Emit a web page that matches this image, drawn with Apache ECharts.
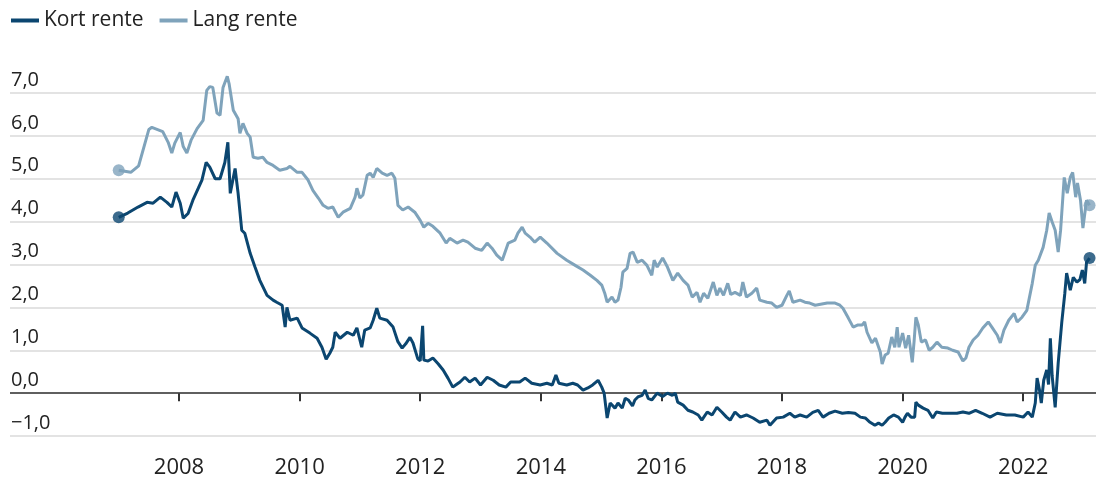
<!DOCTYPE html>
<html>
<head>
<meta charset="utf-8">
<script src="https://cdn.jsdelivr.net/npm/echarts@6/dist/echarts.min.js"></script>
<style>
html,body{margin:0;padding:0;background:#fff;}
#chart{width:1099px;height:484px;}
</style>
</head>
<body>
<div id="chart"></div>
<script>
const seriesNames = ["Kort rente", "Lang rente"];
const xTickYears = [2008, 2010, 2012, 2014, 2016, 2018, 2020, 2022];
const yTicks = [-1, 0, 1, 2, 3, 4, 5, 6, 7];

const kortX = [2007.00,2007.15,2007.32,2007.47,2007.57,2007.69,2007.80,2007.88,2007.95,2008.02,2008.07,2008.15,2008.23,2008.32,2008.38,2008.45,2008.51,2008.60,2008.68,2008.76,2008.81,2008.85,2008.93,2008.98,2009.04,2009.09,2009.18,2009.26,2009.34,2009.46,2009.56,2009.62,2009.71,2009.76,2009.79,2009.84,2009.96,2010.04,2010.17,2010.29,2010.37,2010.44,2010.50,2010.55,2010.59,2010.67,2010.79,2010.89,2010.95,2011.03,2011.08,2011.17,2011.22,2011.28,2011.33,2011.45,2011.55,2011.63,2011.70,2011.76,2011.83,2011.88,2011.96,2012.00,2012.04,2012.06,2012.13,2012.21,2012.30,2012.38,2012.46,2012.54,2012.60,2012.66,2012.74,2012.82,2012.91,2013.00,2013.11,2013.21,2013.31,2013.42,2013.50,2013.65,2013.74,2013.85,2013.99,2014.10,2014.19,2014.25,2014.30,2014.43,2014.53,2014.61,2014.70,2014.78,2014.86,2014.95,2015.01,2015.05,2015.10,2015.15,2015.23,2015.28,2015.35,2015.40,2015.45,2015.52,2015.56,2015.61,2015.68,2015.73,2015.78,2015.84,2015.93,2016.02,2016.10,2016.18,2016.23,2016.27,2016.36,2016.44,2016.52,2016.61,2016.67,2016.76,2016.84,2016.92,2017.00,2017.08,2017.14,2017.22,2017.31,2017.41,2017.52,2017.63,2017.75,2017.80,2017.91,2018.02,2018.13,2018.21,2018.30,2018.41,2018.51,2018.60,2018.68,2018.78,2018.88,2019.00,2019.10,2019.21,2019.30,2019.38,2019.46,2019.54,2019.60,2019.66,2019.71,2019.77,2019.85,2019.93,2020.00,2020.04,2020.08,2020.14,2020.20,2020.22,2020.26,2020.34,2020.42,2020.50,2020.56,2020.66,2020.78,2020.90,2021.00,2021.10,2021.21,2021.32,2021.45,2021.57,2021.72,2021.86,2022.00,2022.08,2022.15,2022.20,2022.23,2022.27,2022.30,2022.34,2022.39,2022.42,2022.45,2022.48,2022.53,2022.58,2022.64,2022.69,2022.72,2022.78,2022.83,2022.89,2022.94,2022.98,2023.02,2023.05,2023.10];
const kortY = [4.10,4.20,4.34,4.45,4.43,4.57,4.45,4.34,4.69,4.43,4.08,4.19,4.50,4.78,4.97,5.38,5.27,5.00,5.00,5.38,5.85,4.66,5.24,4.66,3.80,3.73,3.26,2.94,2.63,2.28,2.17,2.12,2.05,1.54,2.00,1.70,1.75,1.52,1.40,1.28,1.07,0.79,0.93,1.07,1.42,1.28,1.42,1.35,1.52,1.07,1.47,1.52,1.70,1.98,1.75,1.70,1.54,1.20,1.05,1.15,1.30,1.17,0.80,0.75,1.57,0.77,0.75,0.82,0.68,0.54,0.35,0.14,0.20,0.26,0.37,0.26,0.35,0.19,0.37,0.30,0.19,0.14,0.26,0.26,0.35,0.23,0.19,0.23,0.19,0.42,0.23,0.19,0.23,0.19,0.07,0.12,0.19,0.30,0.14,0.00,-0.58,-0.23,-0.35,-0.23,-0.35,-0.12,-0.16,-0.30,-0.16,-0.09,-0.05,0.07,-0.12,-0.16,0.00,-0.08,0.00,-0.05,0.00,-0.21,-0.28,-0.40,-0.44,-0.51,-0.63,-0.44,-0.51,-0.33,-0.44,-0.56,-0.63,-0.44,-0.56,-0.51,-0.58,-0.68,-0.63,-0.75,-0.58,-0.56,-0.47,-0.56,-0.51,-0.56,-0.45,-0.40,-0.56,-0.47,-0.42,-0.47,-0.45,-0.47,-0.56,-0.58,-0.68,-0.75,-0.70,-0.75,-0.68,-0.58,-0.51,-0.56,-0.68,-0.56,-0.47,-0.56,-0.56,-0.21,-0.28,-0.35,-0.40,-0.58,-0.44,-0.47,-0.47,-0.47,-0.44,-0.47,-0.40,-0.47,-0.56,-0.47,-0.51,-0.51,-0.56,-0.44,-0.56,-0.23,0.35,0.07,-0.23,0.30,0.54,0.20,1.28,0.40,-0.33,0.70,1.66,2.33,2.80,2.40,2.70,2.59,2.65,2.87,2.56,3.05,3.15];

const langX = [2007.00,2007.20,2007.33,2007.40,2007.50,2007.55,2007.73,2007.82,2007.88,2007.93,2008.02,2008.07,2008.13,2008.20,2008.30,2008.40,2008.46,2008.51,2008.56,2008.63,2008.68,2008.73,2008.80,2008.83,2008.90,2008.98,2009.01,2009.06,2009.13,2009.18,2009.23,2009.31,2009.39,2009.46,2009.56,2009.67,2009.79,2009.84,2009.96,2010.04,2010.14,2010.22,2010.31,2010.39,2010.47,2010.55,2010.64,2010.72,2010.84,2010.92,2010.95,2011.00,2011.05,2011.12,2011.17,2011.22,2011.28,2011.37,2011.45,2011.53,2011.58,2011.63,2011.71,2011.80,2011.91,2012.00,2012.06,2012.13,2012.21,2012.33,2012.43,2012.49,2012.61,2012.71,2012.79,2012.91,2013.02,2013.11,2013.19,2013.27,2013.36,2013.46,2013.57,2013.62,2013.69,2013.74,2013.82,2013.90,2013.99,2014.10,2014.27,2014.43,2014.57,2014.70,2014.82,2014.93,2015.01,2015.06,2015.10,2015.18,2015.23,2015.28,2015.33,2015.36,2015.43,2015.48,2015.53,2015.60,2015.68,2015.76,2015.84,2015.88,2015.93,2016.02,2016.10,2016.19,2016.27,2016.36,2016.44,2016.51,2016.59,2016.64,2016.70,2016.77,2016.86,2016.92,2016.97,2017.03,2017.10,2017.15,2017.22,2017.31,2017.35,2017.41,2017.50,2017.58,2017.63,2017.75,2017.83,2017.91,2018.00,2018.08,2018.12,2018.18,2018.30,2018.38,2018.46,2018.55,2018.75,2018.88,2018.96,2019.01,2019.10,2019.18,2019.26,2019.33,2019.37,2019.41,2019.49,2019.55,2019.63,2019.66,2019.71,2019.76,2019.82,2019.87,2019.91,2019.94,2020.00,2020.05,2020.10,2020.16,2020.19,2020.22,2020.26,2020.31,2020.38,2020.44,2020.50,2020.57,2020.65,2020.75,2020.83,2020.92,2021.00,2021.05,2021.10,2021.17,2021.25,2021.33,2021.42,2021.48,2021.57,2021.62,2021.68,2021.76,2021.85,2021.90,2021.98,2022.06,2022.15,2022.20,2022.25,2022.33,2022.39,2022.43,2022.48,2022.53,2022.58,2022.62,2022.68,2022.73,2022.78,2022.82,2022.87,2022.90,2022.95,2022.99,2023.05,2023.10];
const langY = [5.20,5.15,5.30,5.65,6.15,6.20,6.10,5.85,5.60,5.83,6.08,5.75,5.60,5.90,6.17,6.36,7.06,7.15,7.13,6.53,6.48,7.13,7.39,7.22,6.60,6.40,6.06,6.29,6.06,5.97,5.50,5.48,5.50,5.38,5.31,5.20,5.24,5.29,5.15,5.15,4.97,4.73,4.55,4.38,4.31,4.34,4.10,4.22,4.31,4.57,4.78,4.55,4.62,5.08,5.13,5.03,5.24,5.13,5.08,5.13,5.01,4.38,4.27,4.34,4.22,4.03,3.87,3.96,3.89,3.73,3.50,3.61,3.50,3.57,3.52,3.38,3.33,3.50,3.38,3.22,3.10,3.50,3.57,3.73,3.87,3.73,3.64,3.52,3.64,3.50,3.26,3.10,2.98,2.87,2.75,2.63,2.52,2.33,2.12,2.24,2.12,2.17,2.47,2.82,2.91,3.26,3.29,3.05,3.10,2.98,2.75,3.10,2.94,3.15,2.94,2.63,2.80,2.63,2.52,2.24,2.35,2.12,2.33,2.21,2.59,2.28,2.45,2.28,2.56,2.30,2.35,2.28,2.59,2.24,2.33,2.45,2.17,2.12,2.10,2.00,2.05,2.28,2.38,2.12,2.17,2.12,2.10,2.05,2.10,2.10,2.05,1.98,1.75,1.54,1.59,1.59,1.66,1.42,1.17,1.28,0.96,0.68,0.89,0.93,1.31,1.07,1.54,1.07,1.40,1.05,1.35,0.72,1.20,1.77,1.59,1.19,1.24,1.00,1.07,1.19,1.07,1.05,1.00,0.96,0.75,0.82,1.07,1.24,1.35,1.52,1.66,1.54,1.35,1.17,1.47,1.70,1.86,1.66,1.77,1.93,2.56,2.98,3.10,3.40,3.80,4.20,3.99,3.80,3.29,3.80,5.03,4.66,5.03,5.15,4.57,4.90,4.50,3.85,4.50,4.38];

const colors = { kort: "#0b4670", lang: "#7fa3bb" };
const FONT = "'Open Sans', sans-serif";

function pairs(xs, ys) { return xs.map((x, i) => [x, ys[i]]); }
function ends(xs, ys) { return [[xs[0], ys[0]], [xs[xs.length - 1], ys[ys.length - 1]]]; }
function fmtY(v) { const s = Math.abs(v).toFixed(1).replace('.', ','); return v < 0 ? '\u2212' + s : s; }

const chart = echarts.init(document.getElementById('chart'), null, { renderer: 'canvas' });
chart.setOption({
  animation: false,
  backgroundColor: '#ffffff',
  legend: {
    data: seriesNames,
    left: 6, top: 5,
    icon: 'rect', itemWidth: 28, itemHeight: 4, itemGap: 16,
    textStyle: { fontFamily: FONT, fontSize: 21, color: '#222' }
  },
  grid: { left: 10, right: 3, top: 93, bottom: 48, containLabel: false },
  xAxis: {
    type: 'value', min: 2005.197, max: 2023.207,
    axisLine: { show: false },
    splitLine: { show: false },
    axisTick: { show: true, customValues: xTickYears, length: 8, lineStyle: { color: '#333', width: 2 } },
    axisLabel: { customValues: xTickYears, margin: 21, formatter: v => String(v), fontFamily: FONT, fontSize: 22, color: '#222' }
  },
  yAxis: {
    type: 'value', min: -1, max: 7, interval: 1,
    axisLine: { show: false }, axisTick: { show: false },
    splitLine: { lineStyle: { color: '#e3e3e3', width: 2 } },
    axisLabel: { inside: true, margin: 1, align: 'left', verticalAlign: 'bottom', padding: [0, 0, 3, 0], formatter: fmtY, fontFamily: FONT, fontSize: 20, color: '#222' }
  },
  series: [
    {
      name: seriesNames[1], type: 'line', data: pairs(langX, langY), showSymbol: false, clip: false,
      lineStyle: { color: colors.lang, width: 3 }, itemStyle: { color: colors.lang }, z: 3
    },
    {
      name: seriesNames[0], type: 'line', data: pairs(kortX, kortY), showSymbol: false, clip: false,
      lineStyle: { color: colors.kort, width: 3 }, itemStyle: { color: colors.kort }, z: 4,
      markLine: { silent: true, symbol: 'none', label: { show: false }, lineStyle: { color: '#333', width: 1.5, type: 'solid' }, data: [{ yAxis: 0 }], z: 2 }
    },
    { type: 'scatter', data: ends(langX, langY), symbolSize: 12, itemStyle: { color: colors.lang }, z: 5, silent: true },
    { type: 'scatter', data: ends(kortX, kortY), symbolSize: 12, itemStyle: { color: colors.kort }, z: 6, silent: true }
  ]
});
</script>
</body>
</html>
